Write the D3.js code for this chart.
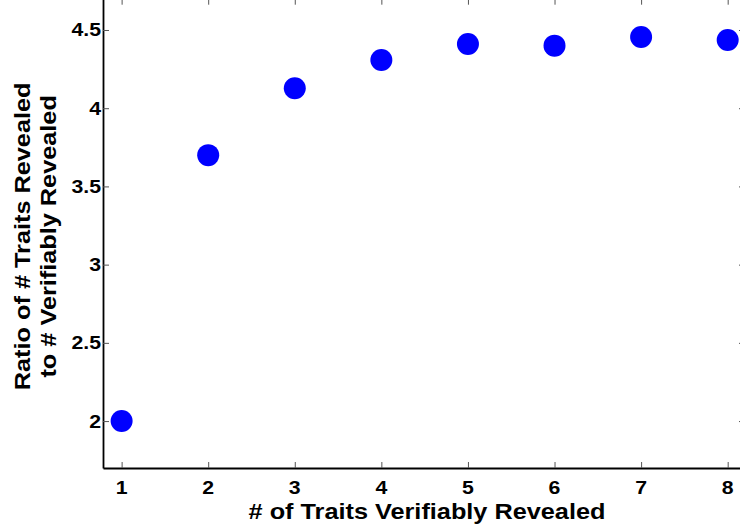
<!DOCTYPE html>
<html>
<head>
<meta charset="utf-8">
<script src="https://cdn.jsdelivr.net/npm/d3@7"></script>
<style>
  body { margin: 0; background: #fff; }
  svg { display: block; }
  text { font-family: "Liberation Sans", Arial, sans-serif; font-weight: bold; fill: #000; }
</style>
</head>
<body>
<div id="chart"></div>
<script>
// data
const traitsRevealed = [1, 2, 3, 4, 5, 6, 7, 8];
const ratioValues = [2.0, 3.70, 4.127, 4.308, 4.41, 4.40, 4.455, 4.436];
const xTicks = [1, 2, 3, 4, 5, 6, 7, 8];
const yTicks = [2, 2.5, 3, 3.5, 4, 4.5];
const xLabel = '# of Traits Verifiably Revealed';
const yLabelLines = ['Ratio of # Traits Revealed', 'to # Verifiably Revealed'];

const width = 740, height = 528;
const stretch = 1.15; // the original glyphs are a bit wider than Liberation Sans

const svg = d3.select('#chart')
    .append('svg')
    .attr('width', width)
    .attr('height', height);

const x = d3.scaleLinear().domain([0.785, 8.2]).range([103, 745]);
const y = d3.scaleLinear().domain([1.7, 4.7]).range([468, -1.3]);

const plotLeft = x.range()[0], plotRight = x.range()[1];
const plotBottom = y.range()[0], plotTop = y.range()[1];

function styleAxis(g) {
    g.select('.domain').attr('stroke', '#000').attr('stroke-width', 1.8);
    g.selectAll('.tick line').attr('stroke', '#555').attr('stroke-width', 1);
}

// box with inward ticks, matlab style
svg.append('g')
    .attr('transform', `translate(0,${plotBottom})`)
    .call(d3.axisBottom(x).tickValues(xTicks).tickSize(-6).tickSizeOuter(0).tickFormat(''))
    .call(styleAxis);

svg.append('g')
    .attr('transform', `translate(0,${plotTop})`)
    .call(d3.axisTop(x).tickValues(xTicks).tickSize(-6).tickSizeOuter(0).tickFormat(''))
    .call(styleAxis);

svg.append('g')
    .attr('transform', `translate(${plotLeft},0)`)
    .call(d3.axisLeft(y).tickValues(yTicks).tickSize(-6).tickSizeOuter(0).tickFormat(''))
    .call(styleAxis);

svg.append('g')
    .attr('transform', `translate(${plotRight},0)`)
    .call(d3.axisRight(y).tickValues(yTicks).tickSize(-6).tickSizeOuter(0).tickFormat(''))
    .call(styleAxis);

// tick labels
svg.append('g')
    .selectAll('text')
    .data(xTicks)
    .join('text')
    .attr('transform', d => `translate(${x(d)},${plotBottom + 26}) scale(${stretch},1)`)
    .attr('text-anchor', 'middle')
    .style('font-size', '18.5px')
    .text(d => d);

svg.append('g')
    .selectAll('text')
    .data(yTicks)
    .join('text')
    .attr('transform', d => `translate(${plotLeft - 2},${y(d) + 6.5}) scale(${stretch},1)`)
    .attr('text-anchor', 'end')
    .style('font-size', '18.5px')
    .text(d => d);

// axis titles
svg.append('text')
    .attr('transform', `translate(427,519) scale(${stretch},1)`)
    .attr('text-anchor', 'middle')
    .style('font-size', '22px')
    .text(xLabel);

svg.append('g')
    .selectAll('text')
    .data(yLabelLines)
    .join('text')
    .attr('transform', (d, i) => `translate(${30 + i * 26},${(plotTop + plotBottom) / 2 + 3}) rotate(-90) scale(${stretch},1)`)
    .attr('text-anchor', 'middle')
    .style('font-size', '22px')
    .text(d => d);

// markers
svg.append('g')
    .selectAll('circle')
    .data(traitsRevealed)
    .join('circle')
    .attr('cx', d => x(d))
    .attr('cy', (d, i) => y(ratioValues[i]))
    .attr('r', 11)
    .attr('fill', '#0000ff');
</script>
</body>
</html>
